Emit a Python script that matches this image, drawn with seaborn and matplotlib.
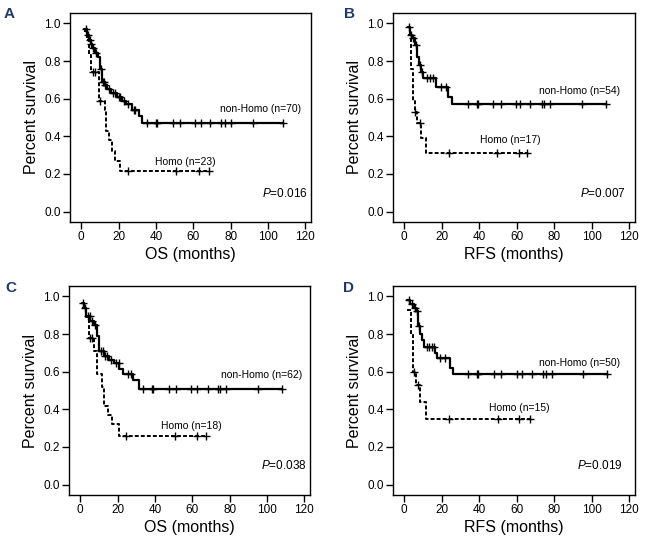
import numpy as np
import pandas as pd
import matplotlib
matplotlib.use("Agg")
import matplotlib.pyplot as plt
import seaborn as sns

# ---------------- data ----------------
# Panel A : OS, all patients
a_non_t = [1.5, 3, 4, 5, 6, 7.5, 9, 10, 11, 12.5, 14, 16, 19, 22, 24, 27, 31, 32.5]
a_non_s = [0.97, 0.94, 0.91, 0.89, 0.87, 0.84, 0.82, 0.76, 0.69, 0.67, 0.65, 0.63, 0.61, 0.59, 0.57, 0.54, 0.51, 0.47]
a_non_c = [2.5, 3.5, 4.5, 5.5, 6.5, 8, 10.5, 11.5, 12, 13, 15, 17, 18, 20, 21, 23, 25, 28, 29,
           35, 40, 40.5, 49, 53, 61, 64, 69, 75, 77, 80, 92, 108]
a_hom_t = [1.5, 3, 4, 5, 9.5, 12.5, 13.5, 15, 16.5, 18, 21]
a_hom_s = [0.96, 0.91, 0.83, 0.74, 0.59, 0.54, 0.43, 0.38, 0.32, 0.27, 0.215]
a_hom_c = [6.5, 7.5, 10, 25, 51, 63, 68.5]

# Panel B : RFS, all patients
b_non_t = [2, 3, 4, 5.5, 7, 8, 9, 10, 17, 23.5, 25.5]
b_non_s = [0.98, 0.94, 0.92, 0.885, 0.82, 0.78, 0.74, 0.71, 0.66, 0.61, 0.57]
b_non_c = [2.5, 3.5, 4.5, 6, 8.5, 9.5, 12, 13.6, 15.4, 19.6, 22.2, 34, 39, 39.5, 47.3, 51.5,
           59.3, 61.8, 66.8, 73.3, 74.5, 77.5, 94.6, 107.6]
b_hom_t = [2, 3.5, 4.5, 5.5, 7, 9, 11.5]
b_hom_s = [0.94, 0.76, 0.59, 0.53, 0.47, 0.39, 0.31]
b_hom_c = [5.8, 8.2, 23.6, 49.4, 60.9, 65.3]

# Panel C : OS, subgroup
c_non_t = [0.7, 2, 3, 5.5, 7.5, 9, 10.2, 13, 15.5, 18, 21, 22.7, 28, 31.7]
c_non_s = [0.965, 0.94, 0.895, 0.87, 0.85, 0.79, 0.71, 0.685, 0.66, 0.645, 0.615, 0.59, 0.555, 0.51]
c_non_c = [1.5, 2.5, 4, 5, 6.5, 8, 11, 12, 13.5, 14.5, 16.5, 19, 20.5, 25.5, 27,
           33.5, 38.5, 39, 47.5, 51.4, 59.5, 62.7, 68.5, 74, 75, 78, 95, 108]
c_hom_t = [1, 3, 4.5, 7.5, 9, 11.5, 13, 15, 17, 20.5]
c_hom_s = [0.94, 0.89, 0.78, 0.71, 0.59, 0.52, 0.42, 0.37, 0.32, 0.26]
c_hom_c = [5, 6.5, 24.5, 50.5, 62.5, 67.5]

# Panel D : RFS, subgroup
d_non_t = [1.5, 3, 5, 6.5, 7.5, 8.5, 9.5, 10.5, 16.5, 17.5, 24.5, 26]
d_non_s = [0.98, 0.96, 0.94, 0.92, 0.845, 0.80, 0.77, 0.73, 0.70, 0.67, 0.62, 0.585]
d_non_c = [2.5, 4, 5.5, 7, 8, 12, 13, 14.7, 15.6, 19, 21.8, 34, 39, 39.5, 47.6, 51.7,
           60, 62.7, 68, 73.7, 75.7, 78.7, 95.5, 108]
d_hom_t = [1.5, 3.5, 4.5, 6.5, 8.5, 11.5]
d_hom_s = [0.93, 0.80, 0.60, 0.53, 0.44, 0.35]
d_hom_c = [5, 7.5, 24, 50, 61, 67]

panel_letters = ["A", "B", "C", "D"]
x_labels = ["OS (months)", "RFS (months)", "OS (months)", "RFS (months)"]
non_labels = ["non-Homo (n=70)", "non-Homo (n=54)", "non-Homo (n=62)", "non-Homo (n=50)"]
hom_labels = ["Homo (n=23)", "Homo (n=17)", "Homo (n=18)", "Homo (n=15)"]
p_values = ["0.016", "0.007", "0.038", "0.019"]
x_ticks = [0, 20, 40, 60, 80, 100, 120]
y_ticks = [0.0, 0.2, 0.4, 0.6, 0.8, 1.0]

# ---------------- styling ----------------
sns.set_style("ticks")
FONT = ["Liberation Sans", "DejaVu Sans"]
plt.rcParams["font.family"] = FONT
plt.rcParams["text.color"] = "black"
plt.rcParams["axes.labelcolor"] = "black"
plt.rcParams["xtick.color"] = "black"
plt.rcParams["ytick.color"] = "black"
plt.rcParams["mathtext.fontset"] = "custom"
plt.rcParams["mathtext.it"] = "Liberation Sans:italic"
plt.rcParams["mathtext.rm"] = "Liberation Sans"

W, H = 650, 546
fig = plt.figure(figsize=(W / 100, H / 100), dpi=100)
fig.patch.set_facecolor("white")

boxes = [(70, 13, 241, 209), (393, 13, 242, 209), (69, 286, 241, 209), (393, 286, 242, 209)]
letter_pos = [(4, 14), (344, 14), (5, 288), (343, 288)]
non_pos = [(74.5, 0.545), (71.6, 0.64), (75.6, 0.58), (71.6, 0.645)]
hom_pos = [(39.6, 0.265), (40.5, 0.38), (43.0, 0.31), (45.3, 0.405)]
p_pos = [(121, 0.095), (118, 0.095), (121, 0.10), (116.6, 0.10)]

curves = [
    ((a_non_t, a_non_s, a_non_c), (a_hom_t, a_hom_s, a_hom_c)),
    ((b_non_t, b_non_s, b_non_c), (b_hom_t, b_hom_s, b_hom_c)),
    ((c_non_t, c_non_s, c_non_c), (c_hom_t, c_hom_s, c_hom_c)),
    ((d_non_t, d_non_s, d_non_c), (d_hom_t, d_hom_s, d_hom_c)),
]


def draw_curve(ax, t, s, c, ls, lw):
    t = np.asarray(t, float)
    s = np.asarray(s, float)
    c = np.asarray(c, float)
    end = max(t.max(), c.max())
    df = pd.DataFrame({"t": np.append(t, end), "s": np.append(s, s[-1])})
    sns.lineplot(data=df, x="t", y="s", ax=ax, color="black", estimator=None,
                 sort=False, drawstyle="steps-post", linestyle=ls, linewidth=lw)
    idx = np.clip(np.searchsorted(t, c, side="right") - 1, 0, None)
    cdf = pd.DataFrame({"t": c, "s": s[idx]})
    sns.scatterplot(data=cdf, x="t", y="s", ax=ax, marker="+", s=34, color="black",
                    linewidth=1.0, zorder=3)


for i in range(4):
    l, tp, w, h = boxes[i]
    ax = fig.add_axes([l / W, 1 - (tp + h) / H, w / W, h / H])
    (nt, ns, nc), (ht, hs, hc) = curves[i]
    draw_curve(ax, ht, hs, hc, (0, (2.0, 1.1)), 1.4)
    draw_curve(ax, nt, ns, nc, "-", 1.6)

    ax.set_xlim(-6, 123)
    ax.set_ylim(-0.055, 1.055)
    ax.set_xticks(x_ticks)
    ax.set_yticks(y_ticks)
    ax.set_yticklabels([f"{v:.1f}" for v in y_ticks])
    ax.tick_params(direction="out", length=5, width=1, labelsize=8.5, pad=1.5, colors="black")
    for sp in ax.spines.values():
        sp.set_visible(True)
        sp.set_linewidth(1.0)
        sp.set_color("black")
    ax.set_xlabel(x_labels[i], fontsize=11.5, labelpad=3)
    ax.set_ylabel("Percent survival", fontsize=11.5, labelpad=4)

    ax.text(non_pos[i][0], non_pos[i][1], non_labels[i], fontsize=7.5, ha="left", va="center")
    ax.text(hom_pos[i][0], hom_pos[i][1], hom_labels[i], fontsize=7.5, ha="left", va="center")
    ax.text(p_pos[i][0], p_pos[i][1], r"$\mathit{P}$=" + p_values[i], fontsize=8.5,
            ha="right", va="center")

    fig.text(letter_pos[i][0] / W, 1 - letter_pos[i][1] / H, panel_letters[i],
             fontsize=11, fontweight="bold", color="#1f3a68", ha="left", va="center")

fig.savefig("out.png", dpi=100, facecolor="white")
